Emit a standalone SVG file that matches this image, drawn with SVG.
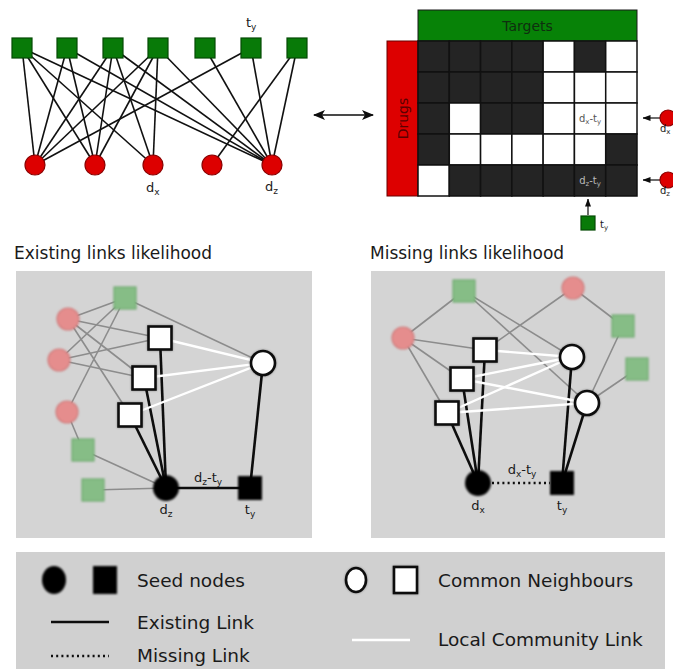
<svg xmlns="http://www.w3.org/2000/svg" width="673" height="669" viewBox="0 0 673 669">
  <style>
    text { font-family: "DejaVu Sans", Verdana, sans-serif; fill: #1a1a1a; }
    .bip { stroke: #111; stroke-width: 1.6; fill: none; }
    .tgt { fill: #087a08; stroke: #044a04; stroke-width: 1.2; }
    .drg { fill: #dd0000; stroke: #8a0000; stroke-width: 1.2; }
    .cb { fill: #242424; stroke: #111; stroke-width: 1.5; }
    .cw { fill: #ffffff; stroke: #111; stroke-width: 1.5; }
    .panel { fill: #d4d4d4; }
    .grey { stroke: #8c8c8c; stroke-width: 1.6; fill: none; }
    .blk { stroke: #0d0d0d; stroke-width: 2.6; fill: none; }
    .wht { stroke: #ffffff; stroke-width: 2.4; fill: none; }
    .dot { stroke: #0d0d0d; stroke-width: 2.4; stroke-dasharray: 2 3.2; fill: none; }
    .pink { fill: #e58d8d; stroke: #cf7c7c; stroke-width: 1.2; }
    .green { fill: #86bd86; stroke: #6ea86e; stroke-width: 1.2; }
    .cn { fill: #ffffff; stroke: #0d0d0d; stroke-width: 2.6; }
    .seed { fill: #050505; }
    .lbl { font-size: 13px; }
    .sm { font-size: 10px; }
  </style>
  <defs>
    <filter id="soft" x="-30%" y="-30%" width="160%" height="160%">
      <feGaussianBlur stdDeviation="0.8"/>
    </filter>
    <filter id="seedblur" x="-30%" y="-30%" width="160%" height="160%">
      <feGaussianBlur stdDeviation="1.1"/>
    </filter>
    <filter id="shadow" x="-30%" y="-30%" width="160%" height="160%">
      <feDropShadow dx="0" dy="0" stdDeviation="1" flood-color="#000" flood-opacity="0.35"/>
    </filter>
    <marker id="head" viewBox="0 0 12 10" refX="11" refY="5" markerWidth="12" markerHeight="10" markerUnits="userSpaceOnUse" orient="auto-start-reverse">
      <path d="M0,0 L12,5 L0,10 L3,5 Z" fill="#0d0d0d"/>
    </marker>
    <marker id="smallhead" viewBox="0 0 8 6" refX="7.5" refY="3" markerWidth="8" markerHeight="6" markerUnits="userSpaceOnUse" orient="auto">
      <path d="M0,0 L8,3 L0,6 Z" fill="#0d0d0d"/>
    </marker>
  </defs>

  <!-- ===== Bipartite drug-target network ===== -->
  <g id="bipartite-links">
    <!-- target 1 -->
    <line class="bip" x1="22" y1="48" x2="35" y2="165"/>
    <line class="bip" x1="22" y1="48" x2="95" y2="165"/>
    <line class="bip" x1="22" y1="48" x2="153" y2="165"/>
    <line class="bip" x1="22" y1="48" x2="272" y2="165"/>
    <!-- target 2 -->
    <line class="bip" x1="67" y1="48" x2="35" y2="165"/>
    <line class="bip" x1="67" y1="48" x2="95" y2="165"/>
    <line class="bip" x1="67" y1="48" x2="272" y2="165"/>
    <!-- target 3 -->
    <line class="bip" x1="113" y1="48" x2="35" y2="165"/>
    <line class="bip" x1="113" y1="48" x2="95" y2="165"/>
    <line class="bip" x1="113" y1="48" x2="153" y2="165"/>
    <line class="bip" x1="113" y1="48" x2="272" y2="165"/>
    <!-- target 4 -->
    <line class="bip" x1="158" y1="48" x2="35" y2="165"/>
    <line class="bip" x1="158" y1="48" x2="95" y2="165"/>
    <line class="bip" x1="158" y1="48" x2="153" y2="165"/>
    <line class="bip" x1="158" y1="48" x2="272" y2="165"/>
    <!-- target 5 -->
    <line class="bip" x1="205" y1="48" x2="272" y2="165"/>
    <!-- target 6 (t_y) -->
    <line class="bip" x1="251" y1="48" x2="35" y2="165"/>
    <line class="bip" x1="251" y1="48" x2="272" y2="165"/>
    <!-- target 7 -->
    <line class="bip" x1="297" y1="48" x2="212" y2="165"/>
    <line class="bip" x1="297" y1="48" x2="272" y2="165"/>
  </g>
  <g id="targets">
    <rect class="tgt" x="12" y="38" width="20" height="20"/>
    <rect class="tgt" x="57" y="38" width="20" height="20"/>
    <rect class="tgt" x="103" y="38" width="20" height="20"/>
    <rect class="tgt" x="148" y="38" width="20" height="20"/>
    <rect class="tgt" x="195" y="38" width="20" height="20"/>
    <rect class="tgt" x="241" y="38" width="20" height="20"/>
    <rect class="tgt" x="287" y="38" width="20" height="20"/>
    <text class="lbl" x="246" y="27">t<tspan font-size="9" dy="3">y</tspan></text>
  </g>
  <g id="drugs">
    <circle class="drg" cx="35" cy="165" r="10"/>
    <circle class="drg" cx="95" cy="165" r="10"/>
    <circle class="drg" cx="153" cy="165" r="10"/>
    <circle class="drg" cx="212" cy="165" r="10"/>
    <circle class="drg" cx="272" cy="165" r="10"/>
    <text class="lbl" x="146" y="192">d<tspan font-size="9" dy="3">x</tspan></text>
    <text class="lbl" x="265" y="191">d<tspan font-size="9" dy="3">z</tspan></text>
  </g>

  <!-- two-way arrow: network <-> adjacency matrix -->
  <g id="equivalence-arrow">
    <line x1="314" y1="115" x2="373" y2="115" stroke="#0d0d0d" stroke-width="1.6" marker-start="url(#head)" marker-end="url(#head)"/>
  </g>

  <!-- ===== Adjacency matrix ===== -->
  <g id="matrix">
    <rect x="418" y="10" width="219" height="31" fill="#078207" stroke="#1a1a1a" stroke-width="1"/>
    <text x="527.5" y="31" font-size="14" text-anchor="middle" style="fill:#0f2f0f">Targets</text>
    <rect x="387" y="41" width="31" height="155" fill="#dd0000" stroke="#6a0000" stroke-width="1"/>
    <text x="0" y="0" font-size="14" text-anchor="middle" transform="translate(407.5,118.5) rotate(-90)" style="fill:#5a0000">Drugs</text>
    <!-- row 1 -->
    <rect class="cb" x="418" y="41" width="31.29" height="31"/>
    <rect class="cb" x="449.29" y="41" width="31.29" height="31"/>
    <rect class="cb" x="480.57" y="41" width="31.29" height="31"/>
    <rect class="cb" x="511.86" y="41" width="31.29" height="31"/>
    <rect class="cw" x="543.14" y="41" width="31.29" height="31"/>
    <rect class="cb" x="574.43" y="41" width="31.29" height="31"/>
    <rect class="cw" x="605.71" y="41" width="31.29" height="31"/>
    <!-- row 2 -->
    <rect class="cb" x="418" y="72" width="31.29" height="31"/>
    <rect class="cb" x="449.29" y="72" width="31.29" height="31"/>
    <rect class="cb" x="480.57" y="72" width="31.29" height="31"/>
    <rect class="cb" x="511.86" y="72" width="31.29" height="31"/>
    <rect class="cw" x="543.14" y="72" width="31.29" height="31"/>
    <rect class="cw" x="574.43" y="72" width="31.29" height="31"/>
    <rect class="cw" x="605.71" y="72" width="31.29" height="31"/>
    <!-- row 3 (d_x) -->
    <rect class="cb" x="418" y="103" width="31.29" height="31"/>
    <rect class="cw" x="449.29" y="103" width="31.29" height="31"/>
    <rect class="cb" x="480.57" y="103" width="31.29" height="31"/>
    <rect class="cb" x="511.86" y="103" width="31.29" height="31"/>
    <rect class="cw" x="543.14" y="103" width="31.29" height="31"/>
    <rect class="cw" x="574.43" y="103" width="31.29" height="31"/>
    <rect class="cw" x="605.71" y="103" width="31.29" height="31"/>
    <!-- row 4 -->
    <rect class="cb" x="418" y="134" width="31.29" height="31"/>
    <rect class="cw" x="449.29" y="134" width="31.29" height="31"/>
    <rect class="cw" x="480.57" y="134" width="31.29" height="31"/>
    <rect class="cw" x="511.86" y="134" width="31.29" height="31"/>
    <rect class="cw" x="543.14" y="134" width="31.29" height="31"/>
    <rect class="cw" x="574.43" y="134" width="31.29" height="31"/>
    <rect class="cb" x="605.71" y="134" width="31.29" height="31"/>
    <!-- row 5 (d_z) -->
    <rect class="cw" x="418" y="165" width="31.29" height="31"/>
    <rect class="cb" x="449.29" y="165" width="31.29" height="31"/>
    <rect class="cb" x="480.57" y="165" width="31.29" height="31"/>
    <rect class="cb" x="511.86" y="165" width="31.29" height="31"/>
    <rect class="cb" x="543.14" y="165" width="31.29" height="31"/>
    <rect class="cb" x="574.43" y="165" width="31.29" height="31"/>
    <rect class="cb" x="605.71" y="165" width="31.29" height="31"/>
    <text x="590" y="122" font-size="10" text-anchor="middle" style="fill:#555">d<tspan font-size="7" dy="2">x</tspan><tspan dy="-2">-t</tspan><tspan font-size="7" dy="2">y</tspan></text>
    <text x="590" y="184" font-size="10" text-anchor="middle" style="fill:#bbb">d<tspan font-size="7" dy="2">z</tspan><tspan dy="-2">-t</tspan><tspan font-size="7" dy="2">y</tspan></text>
  </g>
  <g id="matrix-pointers">
    <line x1="660" y1="118" x2="643" y2="118" stroke="#0d0d0d" stroke-width="1.2" marker-end="url(#smallhead)"/>
    <circle class="drg" cx="668" cy="118" r="8"/>
    <text x="660" y="132" font-size="10">d<tspan font-size="7" dy="2">x</tspan></text>
    <line x1="660" y1="180" x2="643" y2="180" stroke="#0d0d0d" stroke-width="1.2" marker-end="url(#smallhead)"/>
    <circle class="drg" cx="668" cy="180" r="8"/>
    <text x="660" y="194" font-size="10">d<tspan font-size="7" dy="2">z</tspan></text>
    <line x1="588" y1="215" x2="588" y2="199" stroke="#0d0d0d" stroke-width="1.2" marker-end="url(#smallhead)"/>
    <rect class="tgt" x="581" y="216" width="14" height="14"/>
    <text x="600" y="228" font-size="10">t<tspan font-size="7" dy="2">y</tspan></text>
  </g>

  <!-- ===== Existing links likelihood ===== -->
  <text x="14" y="259" font-size="17">Existing links likelihood</text>
  <rect class="panel" x="16" y="271" width="296" height="267"/>
  <g id="existing-links">
    <line class="grey" x1="125" y1="298" x2="68" y2="319"/>
    <line class="grey" x1="125" y1="298" x2="59" y2="360"/>
    <line class="grey" x1="125" y1="298" x2="67" y2="412"/>
    <line class="grey" x1="125" y1="298" x2="263" y2="363"/>
    <line class="grey" x1="68" y1="319" x2="160" y2="338"/>
    <line class="grey" x1="68" y1="319" x2="144" y2="378"/>
    <line class="grey" x1="68" y1="319" x2="130" y2="415"/>
    <line class="grey" x1="59" y1="360" x2="160" y2="338"/>
    <line class="grey" x1="59" y1="360" x2="144" y2="378"/>
    <line class="grey" x1="67" y1="412" x2="83" y2="450"/>
    <line class="grey" x1="83" y1="450" x2="166" y2="488"/>
    <line class="grey" x1="93" y1="490" x2="166" y2="488"/>
    <line class="blk" x1="160" y1="338" x2="166" y2="488"/>
    <line class="blk" x1="144" y1="378" x2="166" y2="488"/>
    <line class="blk" x1="130" y1="415" x2="166" y2="488"/>
    <line class="blk" x1="263" y1="363" x2="250" y2="488"/>
    <line class="blk" x1="166" y1="488" x2="250" y2="488"/>
    <line class="wht" x1="160" y1="338" x2="263" y2="363"/>
    <line class="wht" x1="144" y1="378" x2="263" y2="363"/>
    <line class="wht" x1="130" y1="415" x2="263" y2="363"/>
  </g>
  <g id="existing-context" filter="url(#soft)">
    <rect class="green" x="114" y="287" width="22" height="22"/>
    <circle class="pink" cx="68" cy="319" r="11"/>
    <circle class="pink" cx="59" cy="360" r="11"/>
    <circle class="pink" cx="67" cy="412" r="11"/>
    <rect class="green" x="72" y="439" width="22" height="22"/>
    <rect class="green" x="82" y="479" width="22" height="22"/>
  </g>
  <g id="existing-neighbours" filter="url(#shadow)">
    <rect class="cn" x="148.5" y="326.5" width="23" height="23"/>
    <rect class="cn" x="132.5" y="366.5" width="23" height="23"/>
    <rect class="cn" x="118.5" y="403.5" width="23" height="23"/>
    <circle class="cn" cx="263" cy="363" r="12"/>
  </g>
  <g id="existing-seeds" filter="url(#seedblur)">
    <circle class="seed" cx="166" cy="488" r="13"/>
    <rect class="seed" x="238" y="476" width="24" height="24"/>
  </g>
  <text x="208" y="482" font-size="13" text-anchor="middle">d<tspan font-size="9" dy="3">z</tspan><tspan dy="-3">-t</tspan><tspan font-size="9" dy="3">y</tspan></text>
  <text x="166" y="514" font-size="13" text-anchor="middle">d<tspan font-size="9" dy="3">z</tspan></text>
  <text x="250" y="514" font-size="13" text-anchor="middle">t<tspan font-size="9" dy="3">y</tspan></text>

  <!-- ===== Missing links likelihood ===== -->
  <text x="370" y="259" font-size="17">Missing links likelihood</text>
  <rect class="panel" x="371" y="271" width="294" height="267"/>
  <g id="missing-links">
    <line class="grey" x1="464" y1="291" x2="403" y2="338"/>
    <line class="grey" x1="464" y1="291" x2="572" y2="357"/>
    <line class="grey" x1="464" y1="291" x2="587" y2="403"/>
    <line class="grey" x1="573" y1="288" x2="485" y2="350"/>
    <line class="grey" x1="573" y1="288" x2="623" y2="326"/>
    <line class="grey" x1="623" y1="326" x2="587" y2="403"/>
    <line class="grey" x1="637" y1="369" x2="587" y2="403"/>
    <line class="grey" x1="403" y1="338" x2="485" y2="350"/>
    <line class="grey" x1="403" y1="338" x2="462" y2="379"/>
    <line class="grey" x1="403" y1="338" x2="447" y2="413"/>
    <line class="blk" x1="485" y1="350" x2="478" y2="483"/>
    <line class="blk" x1="462" y1="379" x2="478" y2="483"/>
    <line class="blk" x1="447" y1="413" x2="478" y2="483"/>
    <line class="blk" x1="572" y1="357" x2="562" y2="483"/>
    <line class="blk" x1="587" y1="403" x2="562" y2="483"/>
    <line class="dot" x1="492" y1="483" x2="550" y2="483"/>
    <line class="wht" x1="485" y1="350" x2="572" y2="357"/>
    <line class="wht" x1="462" y1="379" x2="572" y2="357"/>
    <line class="wht" x1="462" y1="379" x2="587" y2="403"/>
    <line class="wht" x1="447" y1="413" x2="572" y2="357"/>
    <line class="wht" x1="447" y1="413" x2="587" y2="403"/>
  </g>
  <g id="missing-context" filter="url(#soft)">
    <rect class="green" x="453" y="280" width="22" height="22"/>
    <circle class="pink" cx="573" cy="288" r="11"/>
    <circle class="pink" cx="403" cy="338" r="11"/>
    <rect class="green" x="612" y="315" width="22" height="22"/>
    <rect class="green" x="626" y="358" width="22" height="22"/>
  </g>
  <g id="missing-neighbours" filter="url(#shadow)">
    <rect class="cn" x="473.5" y="338.5" width="23" height="23"/>
    <rect class="cn" x="450.5" y="367.5" width="23" height="23"/>
    <rect class="cn" x="435.5" y="401.5" width="23" height="23"/>
    <circle class="cn" cx="572" cy="357" r="12"/>
    <circle class="cn" cx="587" cy="403" r="12"/>
  </g>
  <g id="missing-seeds" filter="url(#seedblur)">
    <circle class="seed" cx="478" cy="483" r="13"/>
    <rect class="seed" x="550" y="471" width="24" height="24"/>
  </g>
  <text x="522" y="474" font-size="13" text-anchor="middle">d<tspan font-size="9" dy="3">x</tspan><tspan dy="-3">-t</tspan><tspan font-size="9" dy="3">y</tspan></text>
  <text x="478" y="510" font-size="13" text-anchor="middle">d<tspan font-size="9" dy="3">x</tspan></text>
  <text x="562" y="510" font-size="13" text-anchor="middle">t<tspan font-size="9" dy="3">y</tspan></text>

  <!-- ===== Legend ===== -->
  <g id="legend">
    <rect x="16" y="552" width="649" height="117" fill="#d0d0d0"/>
    <g filter="url(#seedblur)">
      <ellipse class="seed" cx="54" cy="580" rx="12" ry="14"/>
      <rect class="seed" x="93" y="566" width="24" height="28"/>
    </g>
    <text x="137" y="587" font-size="18.5">Seed nodes</text>
    <g filter="url(#shadow)">
      <ellipse class="cn" cx="356" cy="580" rx="10" ry="12"/>
      <rect class="cn" x="394" y="567" width="23" height="26"/>
    </g>
    <text x="438" y="587" font-size="18.5">Common Neighbours</text>
    <line class="blk" x1="51" y1="622" x2="109" y2="622"/>
    <text x="137" y="629" font-size="18.5">Existing Link</text>
    <line class="dot" x1="51" y1="656" x2="109" y2="656" stroke-width="2"/>
    <text x="137" y="662" font-size="18.5">Missing Link</text>
    <line class="wht" x1="352" y1="640" x2="410" y2="640" stroke-width="3"/>
    <text x="438" y="646" font-size="18.5">Local Community Link</text>
  </g>
</svg>
